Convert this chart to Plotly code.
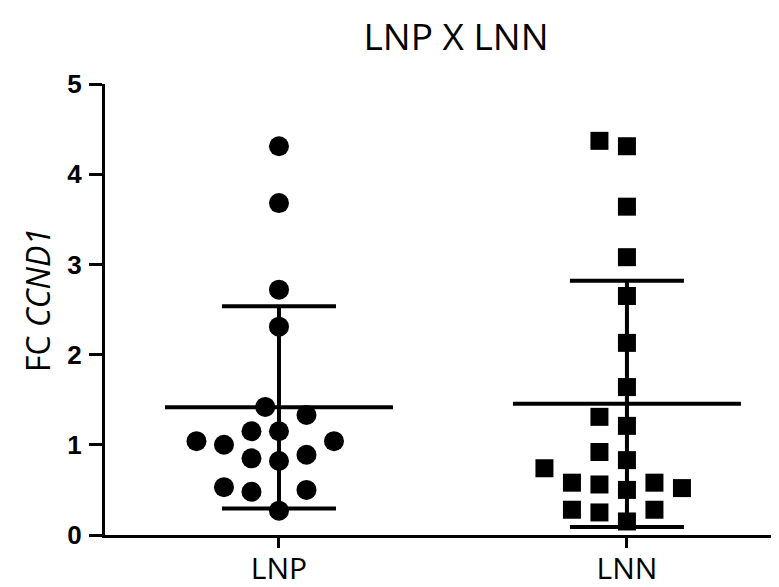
import numpy as np
import plotly.graph_objects as go

# ---- data ----
groups = ["LNP", "LNN"]
lnp_values = [4.31, 3.68, 2.72, 2.31, 1.42, 1.33, 1.04, 1.00, 1.15, 1.15,
              1.04, 0.85, 0.82, 0.89, 0.50, 0.48, 0.53, 0.27]
lnn_values = [4.37, 4.31, 3.64, 3.08, 2.65, 2.13, 1.64, 1.31, 1.21, 0.92,
              0.83, 0.74, 0.58, 0.52, 0.50, 0.56, 0.58, 0.28, 0.25, 0.28, 0.15]
y_ticks = [0, 1, 2, 3, 4, 5]

# ---- layout geometry ----
W, H = 779, 587
ML, MR, MT, MB = 97, 0, 76, 60
XR = [-0.5, 1.46]
YR = [0, 5]
px_x = (W - ML - MR) / (XR[1] - XR[0])
px_y = (H - MT - MB) / (YR[1] - YR[0])


def swarm_offsets(values, dist=26.0, step=13.75):
    """Greedy beeswarm: place points (lowest first) at the nearest free slot."""
    vals = np.asarray(values, dtype=float)
    order = np.argsort(vals, kind="stable")
    placed = []
    offs = np.zeros(len(vals))
    for i in order:
        yp = vals[i] * px_y
        k = 0
        while True:
            c = 0 if k == 0 else (-(k + 1) // 2 if k % 2 == 1 else k // 2)
            xp = c * step
            if all((xp - a) ** 2 + (yp - b) ** 2 >= dist ** 2 for a, b in placed):
                break
            k += 1
        placed.append((xp, yp))
        offs[i] = xp / px_x
    return offs


fig = go.Figure()
series = [lnp_values, lnn_values]
symbols = ["circle", "square"]
sizes = [20, 18]
mean_half = 114 / px_x

for gi, (vals, sym, sz) in enumerate(zip(series, symbols, sizes)):
    v = np.asarray(vals, dtype=float)
    m = v.mean()
    sd = v.std(ddof=1)
    # mean line
    fig.add_trace(go.Scatter(x=[gi - mean_half, gi + mean_half], y=[m, m],
                             mode="lines", line=dict(color="black", width=4),
                             hoverinfo="skip", showlegend=False))
    # SD bar
    fig.add_trace(go.Scatter(x=[gi], y=[m], mode="markers",
                             marker=dict(size=1, color="rgba(0,0,0,0)"),
                             error_y=dict(type="data", array=[sd], visible=True,
                                          color="black", thickness=4, width=57),
                             showlegend=False, hoverinfo="skip"))
    # points
    offs = swarm_offsets(vals)
    fig.add_trace(go.Scatter(x=gi + offs, y=v, mode="markers",
                             marker=dict(symbol=sym, size=sz, color="black",
                                         line=dict(width=0)),
                             name=groups[gi], showlegend=False))

fig.update_layout(
    width=W, height=H,
    margin=dict(l=ML, r=MR, t=MT, b=MB),
    plot_bgcolor="white", paper_bgcolor="white",
    font=dict(family="Open Sans", color="black"),
    title=dict(text="LNP X LNN", font=dict(family="Open Sans", size=37, color="black"),
               x=448 / W, xanchor="center", xref="container",
               y=1 - 29 / H, yanchor="middle", yref="container"),
    xaxis=dict(range=XR, tickmode="array", tickvals=[0, 1], ticktext=groups,
               showline=True, linecolor="black", linewidth=3,
               ticks="outside", ticklen=10, tickwidth=3, tickcolor="black",
               tickfont=dict(family="Open Sans", size=30, color="black"),
               ticklabelstandoff=-5,
               showgrid=False, zeroline=False, fixedrange=True),
    yaxis=dict(range=YR, tickmode="array", tickvals=y_ticks,
               ticktext=[str(t) for t in y_ticks],
               showline=True, linecolor="black", linewidth=3,
               ticks="outside", ticklen=13, tickwidth=3, tickcolor="black",
               tickfont=dict(family="Liberation Sans", size=26, color="black",
                             weight="bold"),
               ticklabelstandoff=2,
               showgrid=False, zeroline=False, fixedrange=True),
    annotations=[dict(text="FC <i>CCND1</i>", textangle=-90,
                      xref="paper", yref="paper",
                      x=(29 - ML) / (W - ML - MR), y=(H - MB - 292) / (H - MT - MB),
                      xanchor="center", yanchor="middle", showarrow=False,
                      font=dict(family="Open Sans", size=32, color="black"))],
)

fig.write_html("out.html")
